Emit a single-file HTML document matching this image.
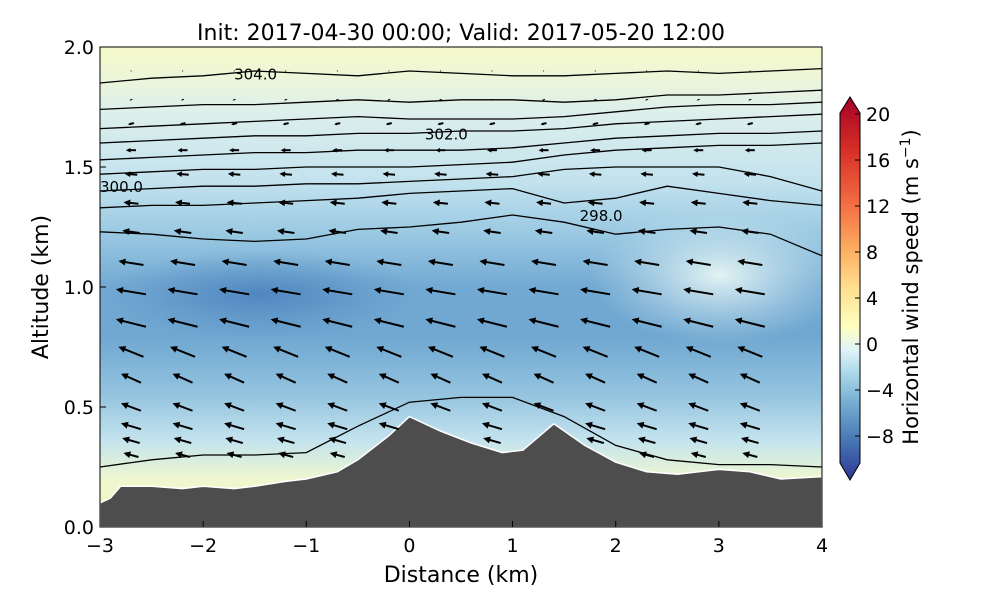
<!DOCTYPE html>
<html><head><meta charset="utf-8"><style>
body{margin:0;background:#fff;font-family:"Liberation Sans",sans-serif}
svg text{font-family:"DejaVu Sans","Liberation Sans",sans-serif}
</style></head><body>
<svg id="c" width="1000" height="600" viewBox="0 0 1000 600">
<defs>
<linearGradient id="bg" x1="0" y1="0" x2="0" y2="1">
<stop offset="0" stop-color="#f4f9c8"/><stop offset="0.06" stop-color="#eef6d8"/>
<stop offset="0.14" stop-color="#dcefec"/><stop offset="0.28" stop-color="#c3e2ee"/>
<stop offset="0.38" stop-color="#9dcbe3"/><stop offset="0.5" stop-color="#72a9d2"/>
<stop offset="0.6" stop-color="#6fa7d1"/><stop offset="0.72" stop-color="#92c2de"/>
<stop offset="0.82" stop-color="#c4e3ee"/><stop offset="0.9" stop-color="#eef7d0"/>
<stop offset="1" stop-color="#f8f6b8"/></linearGradient>
<radialGradient id="light"><stop offset="0" stop-color="#e4f3f4"/><stop offset="1" stop-color="#c0e0ec" stop-opacity="0"/></radialGradient>
<radialGradient id="dark"><stop offset="0" stop-color="#4f86c0"/><stop offset="1" stop-color="#5a90c6" stop-opacity="0"/></radialGradient>
<linearGradient id="cb" x1="0" y1="1" x2="0" y2="0">
<stop offset="0" stop-color="#313695"/><stop offset="0.1" stop-color="#4575b4"/>
<stop offset="0.2" stop-color="#74add1"/><stop offset="0.28" stop-color="#abd9e9"/>
<stop offset="0.34" stop-color="#e0f3f8"/><stop offset="0.4" stop-color="#ffffbf"/>
<stop offset="0.5" stop-color="#fee090"/><stop offset="0.6" stop-color="#fdae61"/>
<stop offset="0.72" stop-color="#f46d43"/><stop offset="0.86" stop-color="#d73027"/>
<stop offset="1" stop-color="#a50026"/></linearGradient>
<clipPath id="pc"><rect x="100" y="47" width="722" height="480"/></clipPath>
</defs>
<text x="461" y="40" font-size="22" text-anchor="middle">Init: 2017-04-30 00:00; Valid: 2017-05-20 12:00</text>
<g clip-path="url(#pc)">
<rect x="100" y="47" width="722" height="480" fill="url(#bg)"/>
<ellipse cx="720" cy="275" rx="130" ry="70" fill="url(#light)"/>
<ellipse cx="260" cy="295" rx="160" ry="45" fill="url(#dark)"/>
<g id="cont"></g><g id="terr"></g><g id="quiv"></g>
</g>
<rect x="100" y="47" width="722" height="480" fill="none" stroke="#000"/>
<g id="axes"></g>
<text x="461" y="582" font-size="22" text-anchor="middle">Distance (km)</text>
<text transform="translate(48,287) rotate(-90)" font-size="22" text-anchor="middle">Altitude (km)</text>
<g>
<path d="M840,113 L850,97 L860,113 L860,463 L850,480 L840,463 Z" fill="url(#cb)" stroke="#000"/>
<g id="cbt"></g>
<text transform="translate(918,287) rotate(-90)" font-size="21" text-anchor="middle">Horizontal wind speed (m s<tspan dy="-8" font-size="14">−1</tspan><tspan dy="8">)</tspan></text>
</g>
</svg>
<script>
const xTicks=[-3,-2,-1,0,1,2,3,4];
const yTicks=[0.0,0.5,1.0,1.5,2.0];
const cbTicks=[20,16,12,8,4,0,-4,-8];
const terrX=[-3,-2.9,-2.8,-2.5,-2.2,-2,-1.7,-1.5,-1.2,-1,-0.7,-0.5,-0.2,0,0.3,0.6,0.9,1.1,1.4,1.7,2,2.3,2.6,3,3.3,3.6,4];
const terrH=[0.1,0.12,0.17,0.17,0.16,0.17,0.16,0.17,0.19,0.2,0.23,0.28,0.38,0.46,0.4,0.35,0.31,0.32,0.43,0.34,0.27,0.23,0.22,0.24,0.23,0.2,0.21];
const contX=[-3,-2.5,-2,-1.5,-1,-0.5,0,0.5,1,1.5,2,2.5,3,3.5,4];
const contH=[
[1.85,1.87,1.88,1.9,1.89,1.88,1.9,1.89,1.88,1.88,1.89,1.9,1.89,1.9,1.91],
[1.74,1.75,1.76,1.76,1.77,1.78,1.77,1.78,1.78,1.77,1.78,1.8,1.8,1.81,1.82],
[1.66,1.67,1.68,1.69,1.7,1.71,1.7,1.7,1.7,1.71,1.73,1.75,1.76,1.76,1.77],
[1.6,1.61,1.62,1.63,1.63,1.64,1.64,1.65,1.65,1.66,1.68,1.69,1.7,1.71,1.72],
[1.53,1.54,1.55,1.56,1.56,1.57,1.57,1.57,1.58,1.6,1.62,1.63,1.64,1.64,1.65],
[1.47,1.48,1.49,1.49,1.5,1.5,1.5,1.51,1.52,1.55,1.57,1.58,1.59,1.59,1.6],
[1.4,1.41,1.42,1.42,1.43,1.43,1.44,1.45,1.46,1.49,1.5,1.5,1.5,1.46,1.4],
[1.33,1.34,1.34,1.35,1.36,1.37,1.39,1.4,1.41,1.35,1.37,1.42,1.39,1.36,1.34],
[1.23,1.22,1.2,1.19,1.2,1.24,1.25,1.27,1.3,1.27,1.22,1.24,1.25,1.22,1.13],
[0.25,0.28,0.3,0.3,0.31,0.42,0.52,0.54,0.54,0.46,0.34,0.28,0.26,0.26,0.25]];
const qRows=[1.9,1.78,1.68,1.57,1.47,1.35,1.23,1.1,0.98,0.85,0.73,0.62,0.5,0.42,0.36,0.3];
const qCols=[-2.7,-2.2,-1.7,-1.2,-0.7,-0.2,0.3,0.8,1.3,1.8,2.3,2.8,3.3];
const qU=[-0.2,-0.6,-1.2,-2,-2.5,-3,-3.5,-5,-6,-6,-5,-4,-4,-4,-3.5,-3];
const qV=[-0.1,-0.2,-0.3,0,0.2,0.3,0.5,0.8,1,1.5,2,1.8,1.5,1.2,1,0.8];
const NS='http://www.w3.org/2000/svg';
const sx=v=>100+(v+3)*722/7, sy=v=>527-v*240, cy=v=>344-v*11.5;
function mk(t,a,p){const e=document.createElementNS(NS,t);for(const k in a)e.setAttribute(k,a[k]);(p||document.getElementById('c')).appendChild(e);return e;}
const ax=document.getElementById('axes');
xTicks.forEach(v=>{const l=mk('line',{x1:sx(v),x2:sx(v),y1:527,y2:521,stroke:'#000'},ax);
const t=mk('text',{x:sx(v),y:552,'font-size':19,'text-anchor':'middle'},ax);t.textContent=(v<0?'−':'')+Math.abs(v);});
yTicks.forEach(v=>{const l=mk('line',{x1:100,x2:106,y1:sy(v),y2:sy(v),stroke:'#000'},ax);
const t=mk('text',{x:94,y:sy(v)+7,'font-size':19,'text-anchor':'end'},ax);t.textContent=v.toFixed(1);});
const cbg=document.getElementById('cbt');
cbTicks.forEach(v=>{const t=mk('text',{x:866,y:cy(v)+7,'font-size':19},cbg);t.textContent=(v<0?'−':'')+Math.abs(v);
const l=mk('line',{x1:855,x2:860,y1:cy(v),y2:cy(v),stroke:'#000'},cbg);});
const cg=document.getElementById('cont');
contH.forEach((row,i)=>{let d=row.map((h,j)=>(j?'L':'M')+sx(contX[j])+','+sy(h)).join(' ');
const p=mk('path',{d:d,fill:'none',stroke:'#000','stroke-width':1.3},cg);});
[['304.0',-1.7,1.89],['302.0',0.15,1.64],['300.0',-3,1.42],['298.0',1.65,1.3]].forEach(a=>{const t=mk('text',{x:sx(a[1]),y:sy(a[2])+6,'font-size':15},cg);t.textContent=a[0];});
const tg=document.getElementById('terr');
let td='M'+sx(-3)+','+sy(0)+' '+terrX.map((x,i)=>'L'+sx(x)+','+sy(terrH[i])).join(' ')+' L'+sx(4)+','+sy(0)+'Z';
const tp=mk('path',{d:td,fill:'#4d4d4d',stroke:'#fff','stroke-width':1.5},tg);
function terrAt(x){for(let i=1;i<terrX.length;i++)if(x<=terrX[i]){const f=(x-terrX[i-1])/(terrX[i]-terrX[i-1]);return terrH[i-1]+f*(terrH[i]-terrH[i-1]);}return 0.2;}
const qg=document.getElementById('quiv');
qRows.forEach((h,i)=>qCols.forEach(x=>{if(h<terrAt(x)+0.03)return;const dx=qU[i]*5,dy=-qV[i]*5;const x0=sx(x)-dx/2,y0=sy(h)-dy/2,x1=x0+dx,y1=y0+dy;
const L=Math.hypot(dx,dy)||1,ux=dx/L,uy=dy/L;const hl=Math.min(7,L*0.45),hw=hl*0.5;
const g=mk('g',{},qg);
mk('line',{x1:x0,y1:y0,x2:x1-ux*hl*0.6,y2:y1-uy*hl*0.6,stroke:'#000','stroke-width':L<6?1:2},g);
mk('path',{d:`M${x1},${y1} L${x1-ux*hl-uy*hw},${y1-uy*hl+ux*hw} L${x1-ux*hl+uy*hw},${y1-uy*hl-ux*hw}Z`,fill:'#000'},g);}));
</script>
</body></html>
